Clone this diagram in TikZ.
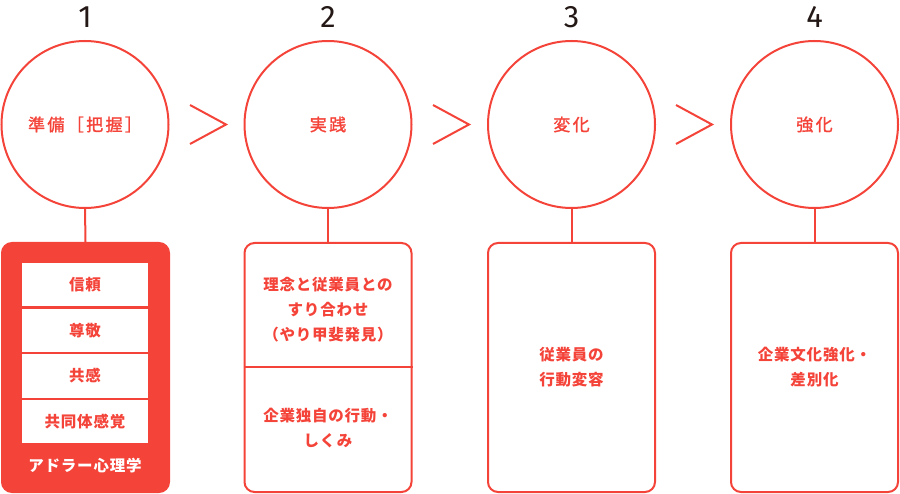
\documentclass[tikz,border=0pt]{standalone}
\usepackage{fontspec}
\setmainfont{Noto Sans CJK JP}[LetterSpace=5]
\newfontfamily\circfont{Noto Sans CJK JP}[LetterSpace=14,FakeBold=1.5]
\newfontfamily\numfont{Fira Sans}
\definecolor{rd}{RGB}{244,67,57}
\definecolor{dk}{RGB}{35,24,21}
\begin{document}
\begin{tikzpicture}[x=1pt,y=-1pt,
  stage/.style={circle,draw=rd,line width=2pt,minimum size=167pt,inner sep=0pt,
    text=rd,font=\circfont\fontsize{17}{20}\selectfont},
  num/.style={text=dk,font=\numfont\fontsize{31}{31}\selectfont,inner sep=0pt},
  panel/.style={draw=rd,line width=2pt,rounded corners=10pt,minimum width=167pt,
    minimum height=249pt,inner sep=0pt},
  cell/.style={fill=white,minimum width=126pt,minimum height=43pt,inner sep=0pt,
    text=rd,font=\bfseries\fontsize{15.5}{25}\selectfont},
  txt/.style={text=rd,align=center,inner sep=0pt,font=\bfseries\fontsize{15.5}{25}\selectfont},
  chev/.style={draw=rd,line width=2pt},
  link/.style={draw=rd,line width=2pt}]
\useasboundingbox (0,0) rectangle (900,494);
% numbers
\node[num] (n1) at (85,17) {1};
\node[num] (n2) at (328,17) {2};
\node[num] (n3) at (571.5,17) {3};
\node[num] (n4) at (814.5,17) {4};
% circles
\node[stage] (c1) at (85,124.5) {準備［把握］};
\node[stage] (c2) at (328,124.5) {実践};
\node[stage] (c3) at (571.5,124.5) {変化};
\node[stage] (c4) at (814.5,124.5) {強化};
% chevrons
\draw[chev] (190,105) -- (226,124.5) -- (190,144);
\draw[chev] (433,105) -- (469,124.5) -- (433,144);
\draw[chev] (676,105) -- (712,124.5) -- (676,144);
% panels
\node[panel,fill=rd] (b1) at (85.5,367.5) {};
\node[panel] (b2) at (328,367.5) {};
\node[panel] (b3) at (571.5,367.5) {};
\node[panel] (b4) at (814.5,367.5) {};
% links
\draw[link] (c1.south) -- (b1.north);
\draw[link] (c2.south) -- (b2.north);
\draw[link] (c3.south) -- (b3.north);
\draw[link] (c4.south) -- (b4.north);
% panel 1 cells
\node[cell] (k1) at (85,284.5) {信頼};
\node[cell] (k2) at (85,330.5) {尊敬};
\node[cell] (k3) at (85,376) {共感};
\node[cell] (k4) at (85,421.5) {共同体感覚};
\node[txt,text=white] (adl) at (85,466) {アドラー心理学};
% panel 2
\coordinate (d1) at (b2.west |- 0,367);
\coordinate (d2) at (b2.east |- 0,367);
\draw[link] (d1) -- (d2);
\node[txt] (t2a) at (328,310) {理念と従業員との\\すり合わせ\\（やり甲斐発見）};
\node[txt] (t2b) at (328,428) {企業独自の行動・\\しくみ};
% panel 3,4
\node[txt] (t3) at (571.5,367.5) {従業員の\\行動変容};
\node[txt] (t4) at (814.5,367.5) {企業文化強化・\\差別化};
\end{tikzpicture}
\end{document}
